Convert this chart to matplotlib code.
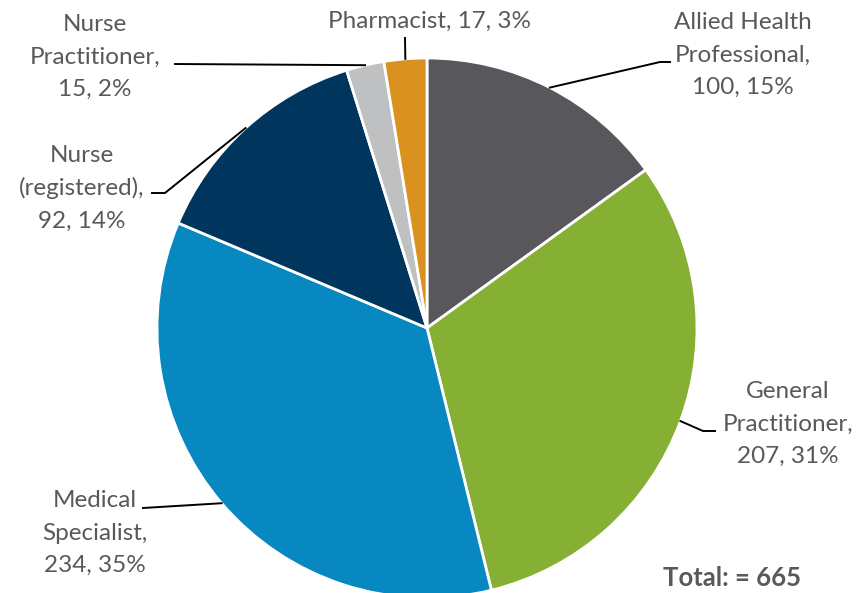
import numpy as np
import matplotlib
matplotlib.use('Agg')
import matplotlib.pyplot as plt

categories = ['Allied Health\nProfessional', 'General\nPractitioner', 'Medical\nSpecialist',
              'Nurse\n(registered)', 'Nurse\nPractitioner', 'Pharmacist']
values = [100, 207, 234, 92, 15, 17]
percents = ['15%', '31%', '35%', '14%', '2%', '3%']
colors = ['#58585c', '#86b034', '#0888c0', '#00365e', '#bec0c2', '#db911f']

# label text position (center) and elbow of leader line, in pixel coords
label_pos = [(743, 55), (788, 424), (95, 533), (82, 188), (95, 57), (430, 21)]
elbows = [[(660, 62), (670, 62)], [(703, 431), (715, 431)], [(143, 508)],
          [(165, 193), (152, 193)], [(175, 64)], [(405, 38)]]

plt.rcParams['font.family'] = ['Lato', 'DejaVu Sans']

fig = plt.figure(figsize=(8.6, 5.93), dpi=100)
ax = fig.add_axes([0, 0, 1, 1])

cx, cy, r = 427, 328, 270
ax.pie(values, colors=colors, center=(cx, cy), radius=r, startangle=-90,
       counterclock=True, wedgeprops=dict(edgecolor='white', linewidth=2),
       frame=True)
ax.set_xlim(0, 860)
ax.set_ylim(593, 0)
ax.set_aspect('equal')
ax.axis('off')

total = sum(values)
cum = np.cumsum(values) - np.array(values) / 2
for i, name in enumerate(categories):
    th = np.deg2rad(-90 + 360 * cum[i] / total)
    edge_pt = (cx + r * np.cos(th), cy + r * np.sin(th))
    pts = [edge_pt] + elbows[i]
    ax.plot([p[0] for p in pts], [p[1] for p in pts], color='black', lw=1.4)
    if name == 'Pharmacist':
        txt = f'{name}, {values[i]}, {percents[i]}'
    else:
        txt = f'{name},\n{values[i]}, {percents[i]}'
    ax.text(label_pos[i][0], label_pos[i][1], txt, ha='center', va='center',
            multialignment='center', fontsize=17.5, color='#595959', linespacing=1.65)

ax.text(732, 578, 'Total: = 665', ha='center', va='center', fontsize=18.5,
        fontweight='bold', color='#595959')

plt.savefig('out.png', dpi=100)
